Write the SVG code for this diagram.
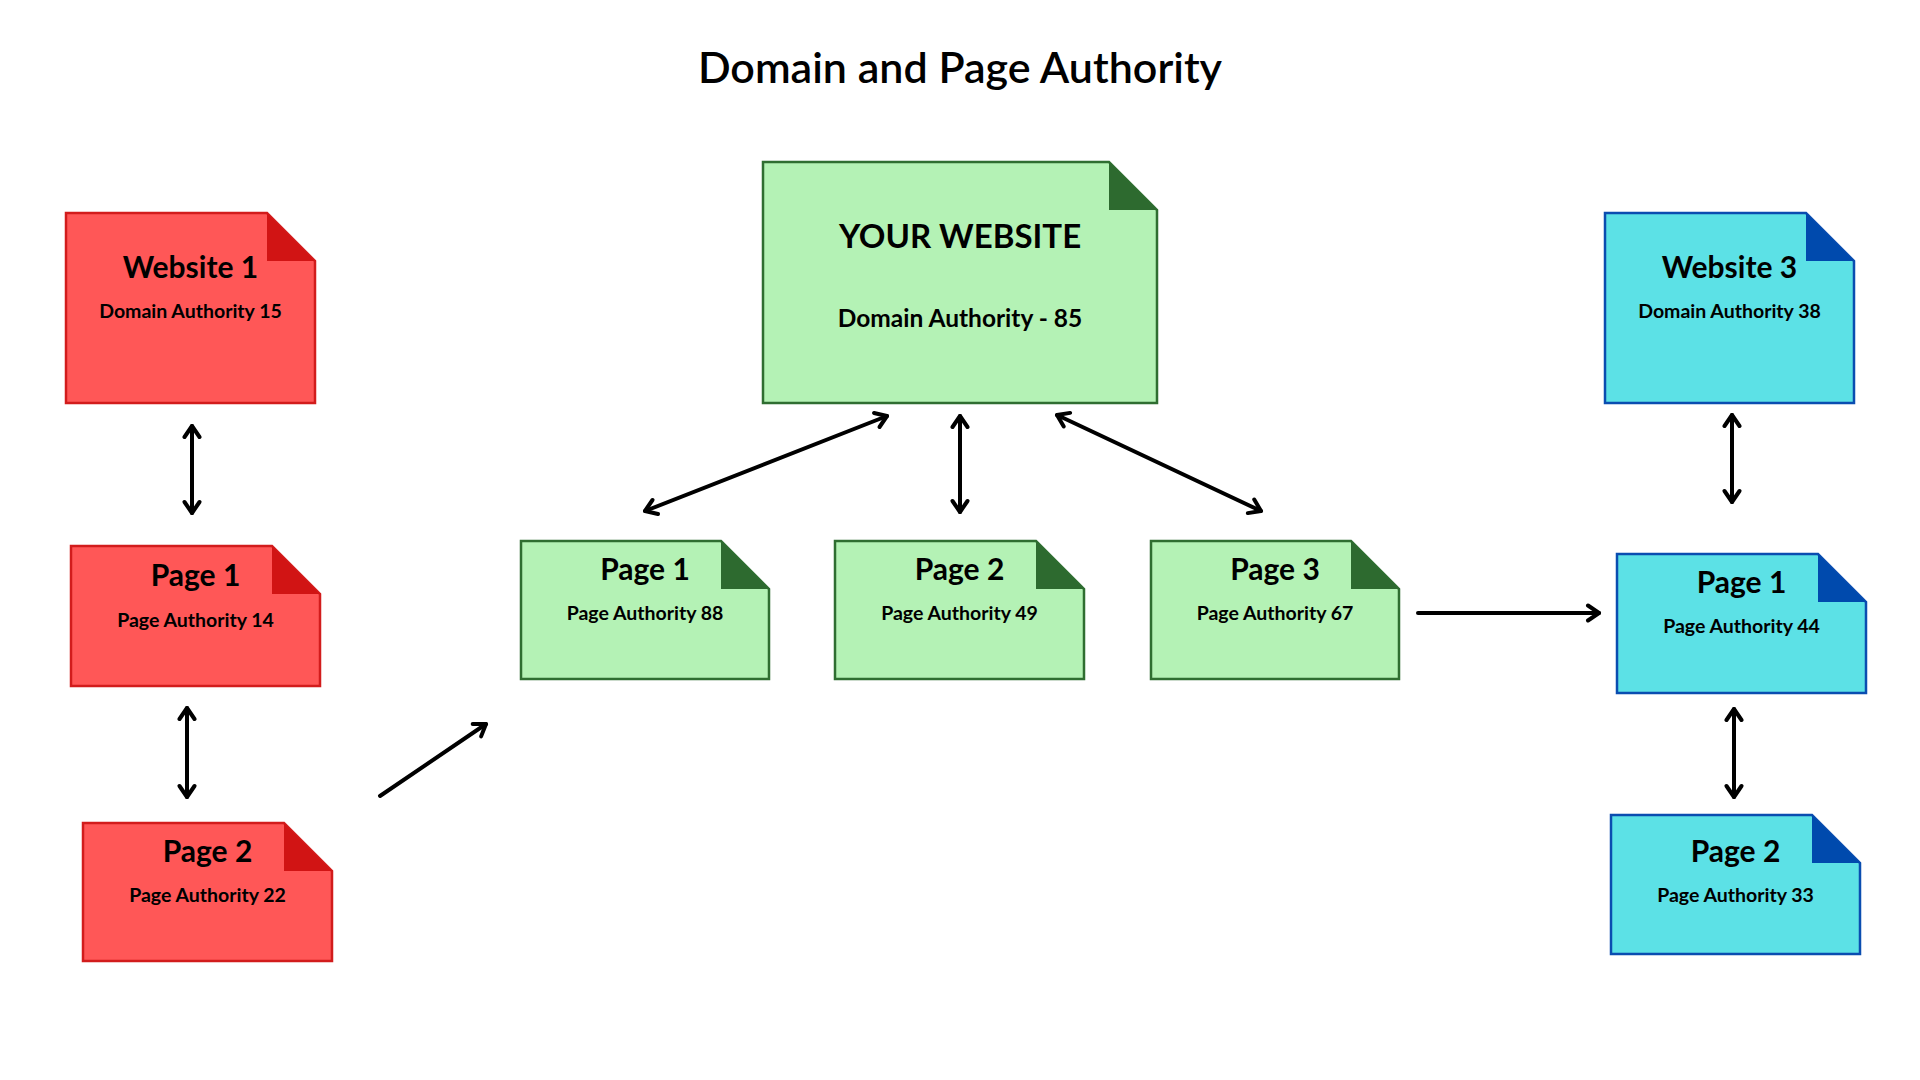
<svg xmlns="http://www.w3.org/2000/svg" width="1920" height="1080" viewBox="0 0 1920 1080">
<defs>
<style>
.t{font-family:Lato,"Liberation Sans",sans-serif;fill:#000;text-anchor:middle}
.title{font-size:43px;font-weight:600}
.h{font-size:30px;font-weight:700}
.s{font-size:19.5px;font-weight:700}
.red .b{fill:#ff5757;stroke:#d21c1c;stroke-width:2.5}
.red .f{fill:#d11414}
.grn .b{fill:#b4f2b5;stroke:#2f6e31;stroke-width:2.5}
.grn .f{fill:#2d6a2f}
.cyn .b{fill:#5ce1e6;stroke:#0a4db0;stroke-width:2.5}
.cyn .f{fill:#004aad}
.c line{stroke:#000;stroke-width:4;stroke-linecap:round;fill:none}
</style>
<marker id="ah" markerUnits="userSpaceOnUse" viewBox="-14 -10 18 20" markerWidth="18" markerHeight="20" refX="0" refY="0" orient="auto-start-reverse">
<path d="M-11,-7.5 L0,0 L-11,7.5" fill="none" stroke="#000" stroke-width="4" stroke-linecap="round" stroke-linejoin="round"/>
</marker>
</defs>
<rect width="1920" height="1080" fill="#fff"/>
<text class="t title" x="960" y="83">Domain and Page Authority</text>

<g id="website1" class="red">
<polygon class="b" points="66,213 267,213 315,261 315,403 66,403"/>
<polygon class="f" points="267,213 267,261 315,261"/>
<text class="t h" x="190.5" y="278">Website 1</text>
<text class="t s" x="190.5" y="318">Domain Authority 15</text>
</g>
<g id="w1page1" class="red">
<polygon class="b" points="71,546 272,546 320,594 320,686 71,686"/>
<polygon class="f" points="272,546 272,594 320,594"/>
<text class="t h" x="195.5" y="586">Page 1</text>
<text class="t s" x="195.5" y="627">Page Authority 14</text>
</g>
<g id="w1page2" class="red">
<polygon class="b" points="83,823 284,823 332,871 332,961 83,961"/>
<polygon class="f" points="284,823 284,871 332,871"/>
<text class="t h" x="207.5" y="862">Page 2</text>
<text class="t s" x="207.5" y="902">Page Authority 22</text>
</g>

<g id="yourwebsite" class="grn">
<polygon class="b" points="763,162 1109,162 1157,210 1157,403 763,403"/>
<polygon class="f" points="1109,162 1109,210 1157,210"/>
<text class="t" x="960" y="248" style="font-size:33px;font-weight:700">YOUR WEBSITE</text>
<text class="t" x="960" y="327" style="font-size:24.5px;font-weight:700">Domain Authority - 85</text>
</g>
<g id="ypage1" class="grn">
<polygon class="b" points="521,541 721,541 769,589 769,679 521,679"/>
<polygon class="f" points="721,541 721,589 769,589"/>
<text class="t h" x="645" y="580">Page 1</text>
<text class="t s" x="645" y="620">Page Authority 88</text>
</g>
<g id="ypage2" class="grn">
<polygon class="b" points="835,541 1036,541 1084,589 1084,679 835,679"/>
<polygon class="f" points="1036,541 1036,589 1084,589"/>
<text class="t h" x="959.5" y="580">Page 2</text>
<text class="t s" x="959.5" y="620">Page Authority 49</text>
</g>
<g id="ypage3" class="grn">
<polygon class="b" points="1151,541 1351,541 1399,589 1399,679 1151,679"/>
<polygon class="f" points="1351,541 1351,589 1399,589"/>
<text class="t h" x="1275" y="580">Page 3</text>
<text class="t s" x="1275" y="620">Page Authority 67</text>
</g>

<g id="website3" class="cyn">
<polygon class="b" points="1605,213 1806,213 1854,261 1854,403 1605,403"/>
<polygon class="f" points="1806,213 1806,261 1854,261"/>
<text class="t h" x="1729.5" y="278">Website 3</text>
<text class="t s" x="1729.5" y="318">Domain Authority 38</text>
</g>
<g id="w3page1" class="cyn">
<polygon class="b" points="1617,554 1818,554 1866,602 1866,693 1617,693"/>
<polygon class="f" points="1818,554 1818,602 1866,602"/>
<text class="t h" x="1741.5" y="593">Page 1</text>
<text class="t s" x="1741.5" y="633">Page Authority 44</text>
</g>
<g id="w3page2" class="cyn">
<polygon class="b" points="1611,815 1812,815 1860,863 1860,954 1611,954"/>
<polygon class="f" points="1812,815 1812,863 1860,863"/>
<text class="t h" x="1735.5" y="862">Page 2</text>
<text class="t s" x="1735.5" y="902">Page Authority 33</text>
</g>

<g id="connectors" class="c">
<line x1="192" y1="426" x2="192" y2="513" marker-start="url(#ah)" marker-end="url(#ah)"/>
<line x1="187" y1="708" x2="187" y2="797" marker-start="url(#ah)" marker-end="url(#ah)"/>
<line x1="380" y1="796" x2="486" y2="724" marker-end="url(#ah)"/>
<line x1="887" y1="416" x2="645" y2="511" marker-start="url(#ah)" marker-end="url(#ah)"/>
<line x1="960" y1="416" x2="960" y2="512" marker-start="url(#ah)" marker-end="url(#ah)"/>
<line x1="1057" y1="415" x2="1261" y2="511" marker-start="url(#ah)" marker-end="url(#ah)"/>
<line x1="1418" y1="613" x2="1599" y2="613" marker-end="url(#ah)"/>
<line x1="1732" y1="415" x2="1732" y2="502" marker-start="url(#ah)" marker-end="url(#ah)"/>
<line x1="1734" y1="709" x2="1734" y2="797" marker-start="url(#ah)" marker-end="url(#ah)"/>
</g>
</svg>
